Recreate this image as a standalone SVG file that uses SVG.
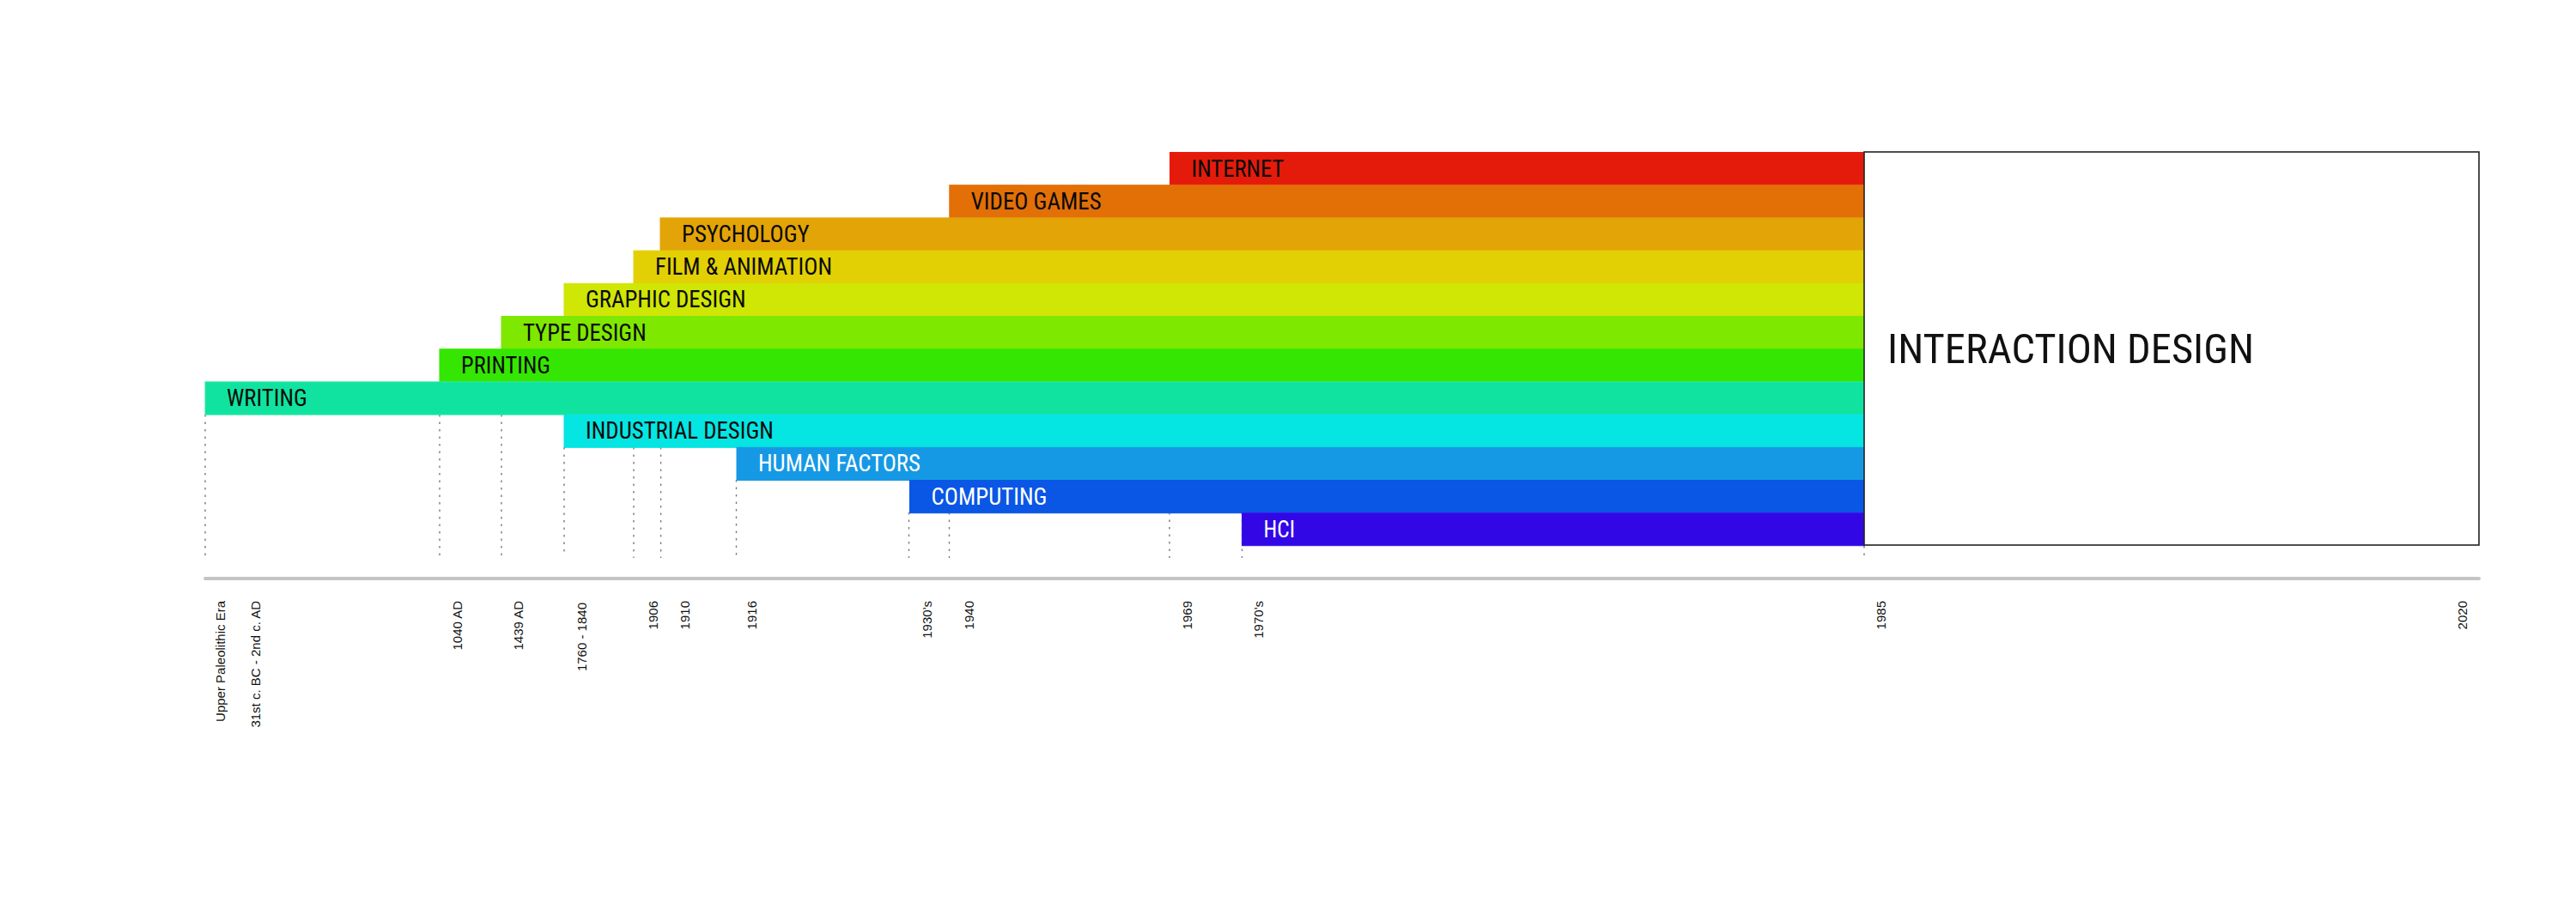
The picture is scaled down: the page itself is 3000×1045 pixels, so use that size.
<svg xmlns="http://www.w3.org/2000/svg" width="3000" height="1045" viewBox="0 0 3000 1045">
  <style>
    .bar { stroke-width: 1; }
    .lbl { font-family: "Roboto Condensed", "Liberation Sans Narrow", Roboto, "Liberation Sans", sans-serif; font-stretch: condensed; font-size: 28px; fill: #0a0a0a; }
    .lbl.w { fill: #ffffff; }
    .guide { stroke: #7a7a7a; stroke-width: 1.4; stroke-dasharray: 2.5 6; fill: none; }
    .yr { font-family: "Liberation Sans", Arial, sans-serif; font-size: 15px; fill: #111; }
    .big { font-family: "Roboto Condensed", "Liberation Sans Narrow", Roboto, "Liberation Sans", sans-serif; font-stretch: condensed; font-size: 49px; fill: #111; }
  </style>
  <rect width="3000" height="1045" fill="#ffffff"/>

  <g id="connectors">
    <line class="guide" x1="239" y1="483" x2="239" y2="647"/>
    <line class="guide" x1="512" y1="483" x2="512" y2="647"/>
    <line class="guide" x1="584" y1="483" x2="584" y2="647"/>
    <line class="guide" x1="657" y1="521" x2="657" y2="648"/>
    <line class="guide" x1="738" y1="521" x2="738" y2="650"/>
    <line class="guide" x1="769.6" y1="521" x2="769.6" y2="650"/>
    <line class="guide" x1="857.5" y1="559" x2="857.5" y2="650"/>
    <line class="guide" x1="1058.5" y1="597" x2="1058.5" y2="650"/>
    <line class="guide" x1="1105.5" y1="597" x2="1105.5" y2="650"/>
    <line class="guide" x1="1362" y1="597" x2="1362" y2="650"/>
    <line class="guide" x1="1446.5" y1="597" x2="1446.5" y2="650"/>
    <line class="guide" x1="2171" y1="636" x2="2171" y2="653"/>
  </g>

  <g id="internet">
    <rect class="bar" x="1362.5" y="177.5" width="808.5" height="38.2" fill="#E41B0B" stroke="#EE1A10"/>
    <text class="lbl" x="1387.5" y="205.5" textLength="108" lengthAdjust="spacingAndGlyphs">INTERNET</text>
  </g>
  <g id="video-games">
    <rect class="bar" x="1105.8" y="215.7" width="1065.2" height="38.2" fill="#E36F07" stroke="#E47010"/>
    <text class="lbl" x="1130.8" y="243.7" textLength="151.8" lengthAdjust="spacingAndGlyphs">VIDEO GAMES</text>
  </g>
  <g id="psychology">
    <rect class="bar" x="769" y="253.9" width="1402" height="38.2" fill="#E3A407" stroke="#E3A407"/>
    <text class="lbl" x="794" y="281.9" textLength="148.7" lengthAdjust="spacingAndGlyphs">PSYCHOLOGY</text>
  </g>
  <g id="film-animation">
    <rect class="bar" x="738" y="292.1" width="1433" height="38.2" fill="#E3D004" stroke="#E3D004"/>
    <text class="lbl" x="763" y="320.1" textLength="206" lengthAdjust="spacingAndGlyphs">FILM &amp; ANIMATION</text>
  </g>
  <g id="graphic-design">
    <rect class="bar" x="657" y="330.3" width="1514" height="38.2" fill="#D0E604" stroke="#D0E604"/>
    <text class="lbl" x="682" y="358.3" textLength="186.6" lengthAdjust="spacingAndGlyphs">GRAPHIC DESIGN</text>
  </g>
  <g id="type-design">
    <rect class="bar" x="584" y="368.5" width="1587" height="38.2" fill="#7FE800" stroke="#7FE800"/>
    <text class="lbl" x="609" y="396.5" textLength="143.7" lengthAdjust="spacingAndGlyphs">TYPE DESIGN</text>
  </g>
  <g id="printing">
    <rect class="bar" x="512" y="406.7" width="1659" height="38.2" fill="#35E602" stroke="#35E602"/>
    <text class="lbl" x="537" y="434.7" textLength="104" lengthAdjust="spacingAndGlyphs">PRINTING</text>
  </g>
  <g id="writing">
    <rect class="bar" x="239" y="444.9" width="1932" height="38.2" fill="#10E39F" stroke="#2EE8A8"/>
    <text class="lbl" x="264" y="472.9" textLength="93.7" lengthAdjust="spacingAndGlyphs">WRITING</text>
  </g>
  <g id="industrial-design">
    <rect class="bar" x="657" y="483.1" width="1514" height="38.2" fill="#05E5E2" stroke="#05E5E2"/>
    <text class="lbl" x="682" y="511.1" textLength="219" lengthAdjust="spacingAndGlyphs">INDUSTRIAL DESIGN</text>
  </g>
  <g id="human-factors">
    <rect class="bar" x="858" y="521.3" width="1313" height="38.2" fill="#1699E5" stroke="#1699E5"/>
    <text class="lbl w" x="883" y="549.3" textLength="189" lengthAdjust="spacingAndGlyphs">HUMAN FACTORS</text>
  </g>
  <g id="computing">
    <rect class="bar" x="1059.5" y="559.5" width="1111.5" height="38.2" fill="#0A56E5" stroke="#0A56E5"/>
    <text class="lbl w" x="1084.5" y="587.5" textLength="135" lengthAdjust="spacingAndGlyphs">COMPUTING</text>
  </g>
  <g id="hci">
    <rect class="bar" x="1446.5" y="597.7" width="724.5" height="38" fill="#3207E6" stroke="#3A10EA"/>
    <text class="lbl w" x="1471.5" y="625.7" textLength="36.6" lengthAdjust="spacingAndGlyphs">HCI</text>
  </g>

  <g id="interaction-design">
    <rect x="2171" y="177" width="716" height="458" fill="#ffffff" stroke="#222222" stroke-width="1.6"/>
    <text class="big" x="2198" y="423" textLength="427" lengthAdjust="spacingAndGlyphs">INTERACTION DESIGN</text>
  </g>

  <g id="axis">
    <line x1="239" y1="674" x2="2887" y2="674" stroke="#C4C4C4" stroke-width="4" stroke-linecap="round"/>
  </g>

  <g id="year-labels">
    <text class="yr" text-anchor="end" transform="translate(261.6,700) rotate(-90)">Upper Paleolithic Era</text>
    <text class="yr" text-anchor="end" transform="translate(302.5,700) rotate(-90)">31st c. BC - 2nd c. AD</text>
    <text class="yr" text-anchor="end" transform="translate(538,700) rotate(-90)">1040 AD</text>
    <text class="yr" text-anchor="end" transform="translate(609,700) rotate(-90)">1439 AD</text>
    <text class="yr" text-anchor="end" transform="translate(682.5,702) rotate(-90)">1760 - 1840</text>
    <text class="yr" text-anchor="end" transform="translate(765.5,700) rotate(-90)">1906</text>
    <text class="yr" text-anchor="end" transform="translate(802.6,700) rotate(-90)">1910</text>
    <text class="yr" text-anchor="end" transform="translate(880.7,700) rotate(-90)">1916</text>
    <text class="yr" text-anchor="end" transform="translate(1085.3,700) rotate(-90)">1930's</text>
    <text class="yr" text-anchor="end" transform="translate(1134.4,700) rotate(-90)">1940</text>
    <text class="yr" text-anchor="end" transform="translate(1388,700) rotate(-90)">1969</text>
    <text class="yr" text-anchor="end" transform="translate(1471.4,700) rotate(-90)">1970's</text>
    <text class="yr" text-anchor="end" transform="translate(2196,700) rotate(-90)">1985</text>
    <text class="yr" text-anchor="end" transform="translate(2872.5,700) rotate(-90)">2020</text>
  </g>
</svg>
